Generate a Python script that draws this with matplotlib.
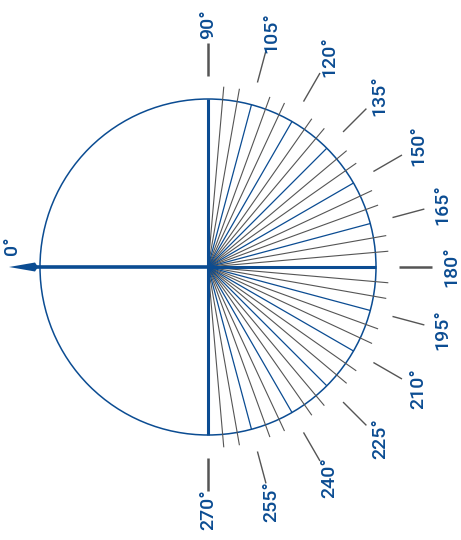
import numpy as np
import matplotlib.pyplot as plt
from matplotlib.patches import Circle, Polygon

plt.rcParams['font.family'] = ['Roboto', 'DejaVu Sans']

# angles in degrees, 0 at left, growing clockwise (90 at top, 180 at right)
label_angles = [90, 105, 120, 135, 150, 165, 180, 195, 210, 225, 240, 255, 270]
label_texts = [f"{a}°" for a in label_angles]
major_angles = [105, 120, 135, 150, 165, 195, 210, 225, 240, 255]
minor_angles = [a for a in range(95, 270, 5) if a % 15 != 0]
axis_angles = [90, 180, 270]

BLUE = '#0b4c92'
GRAY = '#555555'

cx, cy = 208, 267
R = 168


def point(angle, r):
    # screen coords, y pointing down
    t = np.deg2rad(angle)
    return cx - r * np.cos(t), cy - r * np.sin(t)


fig = plt.figure(figsize=(4.61, 5.40), dpi=100)
ax = fig.add_axes([0, 0, 1, 1])
ax.set_xlim(0, 461)
ax.set_ylim(540, 0)
ax.set_aspect('equal')
ax.axis('off')

ax.add_patch(Circle((cx, cy), R, fill=False, ec=BLUE, lw=1.1))

# minor lines (gray, past the circle)
for a in minor_angles:
    x, y = point(a, 181)
    ax.plot([cx, x], [cy, y], color=GRAY, lw=0.8, solid_capstyle='butt')

# 15 degree lines (blue, up to the circle)
for a in major_angles:
    x, y = point(a, R)
    ax.plot([cx, x], [cy, y], color=BLUE, lw=0.9, solid_capstyle='butt')

# main axes
for a in axis_angles:
    x, y = point(a, R)
    ax.plot([cx, x], [cy, y], color=BLUE, lw=2.2, solid_capstyle='butt')

# 0 degree arrow
x0, y0 = point(0, 173)
ax.plot([cx, x0], [cy, y0], color=BLUE, lw=2.6, solid_capstyle='butt')
tip = point(0, 199)
ax.add_patch(Polygon([tip, (x0, y0 - 4.5), (x0 + 3, y0), (x0, y0 + 4.5)],
                     closed=True, fc=BLUE, ec='none'))
ax.text(tip[0] + 3, cy - 21, "0°", rotation=90, color=BLUE, fontsize=14,
        fontweight='medium', ha='center', va='center')

# leaders and labels
for a, txt in zip(label_angles, label_texts):
    x1, y1 = point(a, 191)
    x2, y2 = point(a, 224)
    lw = 1.8 if a in axis_angles else 1.0
    ax.plot([x1, x2], [y1, y2], color=GRAY, lw=lw, solid_capstyle='butt')
    tx, ty = point(a, 243)
    ax.text(tx, ty, txt, rotation=90, color=BLUE, fontsize=14,
            fontweight='medium', ha='center', va='center',
            rotation_mode='anchor')

plt.savefig('out.png', dpi=100)
